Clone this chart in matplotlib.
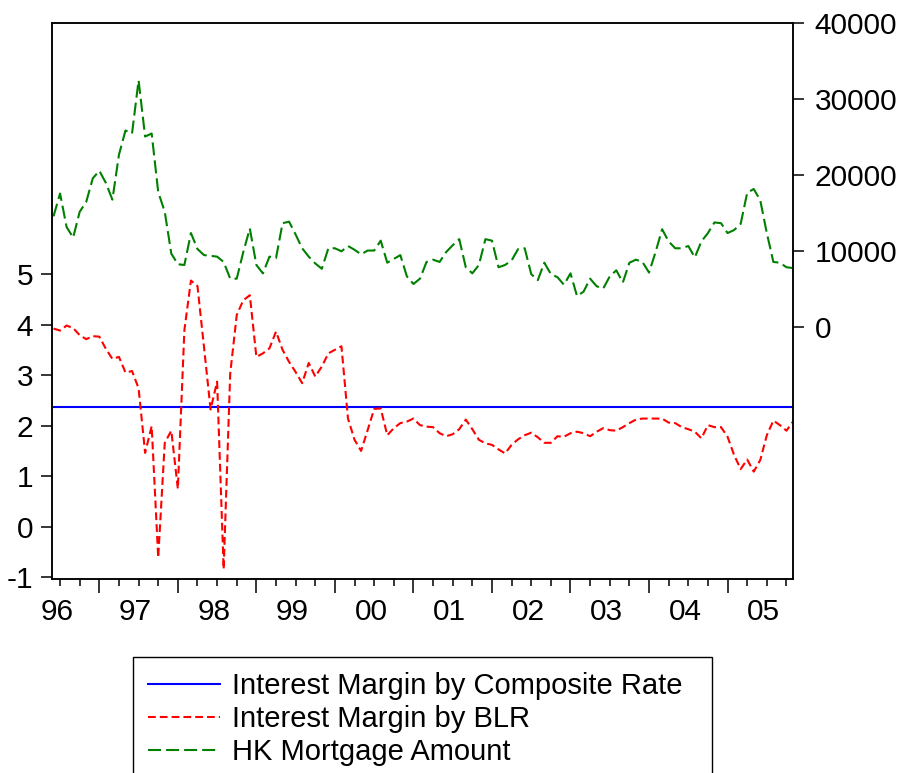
import numpy as np
import matplotlib
matplotlib.use('Agg')
import matplotlib.pyplot as plt

plt.rcParams['font.family'] = ['Liberation Sans', 'DejaVu Sans']
plt.rcParams['lines.scale_dashes'] = False

year_labels = ['96', '97', '98', '99', '00', '01', '02', '03', '04', '05']
left_ticks = [-1, 0, 1, 2, 3, 4, 5]
right_ticks = [0, 10000, 20000, 30000, 40000]
series_names = ['Interest Margin by Composite Rate',
                'Interest Margin by BLR',
                'HK Mortgage Amount']

composite_margin = 2.36

blr_margin = [
    3.92, 3.88, 3.98, 3.93, 3.79, 3.71, 3.77, 3.76, 3.52, 3.32,
    3.36, 3.05, 3.08, 2.74, 1.46, 1.99, -0.61, 1.66, 1.90, 0.75,
    3.89, 4.87, 4.76, 3.55, 2.32, 2.87, -0.84, 3.03, 4.19, 4.48,
    4.58, 3.36, 3.43, 3.53, 3.86, 3.50, 3.26, 3.06, 2.84, 3.24,
    2.97, 3.17, 3.43, 3.50, 3.57, 2.14, 1.72, 1.50, 1.91, 2.33,
    2.34, 1.81, 1.95, 2.05, 2.08, 2.14, 2.01, 1.98, 1.97, 1.85,
    1.79, 1.83, 1.93, 2.12, 1.93, 1.72, 1.65, 1.62, 1.53, 1.45,
    1.62, 1.73, 1.81, 1.86, 1.77, 1.66, 1.66, 1.79, 1.78, 1.85,
    1.88, 1.85, 1.79, 1.88, 1.95, 1.91, 1.90, 1.97, 2.05, 2.12,
    2.14, 2.14, 2.14, 2.14, 2.06, 2.05, 1.97, 1.93, 1.88, 1.75,
    2.01, 1.97, 1.97, 1.78, 1.42, 1.14, 1.33, 1.09, 1.32, 1.81,
    2.10, 2.01, 1.90, 2.08,
]

mortgage = [
    14600, 17600, 13200, 11800, 15200, 16500, 19600, 20600, 19000, 16800,
    22700, 25900, 25500, 32500, 25100, 25500, 17800, 15200, 9700, 8300,
    8200, 12400, 10300, 9500, 9400, 9300, 8600, 6400, 6400, 9900,
    13000, 8200, 7100, 9300, 9100, 13700, 13900, 12200, 10400, 9300,
    8400, 7700, 10400, 10400, 10000, 10700, 10200, 9600, 10100, 10100,
    11400, 8500, 9000, 9500, 6700, 5700, 6400, 8600, 8900, 8600,
    9900, 10800, 11600, 7900, 7100, 8200, 11600, 11400, 7900, 8200,
    8800, 10300, 10400, 7000, 6200, 8500, 7000, 6600, 5600, 7100,
    4100, 4700, 6400, 5400, 5100, 6700, 7500, 5900, 8500, 8900,
    8600, 7200, 9900, 12900, 11300, 10400, 10400, 10700, 9200, 11300,
    12400, 13800, 13700, 12400, 12800, 13600, 17700, 18200, 16700, 12400,
    8600, 8500, 7900, 7800,
]

n = len(blr_margin)
months = np.arange(n)  # monthly observations from 1996M1

W, H = 904, 773
fig = plt.figure(figsize=(W / 100, H / 100), dpi=100)
L, R, T, B = 52, 793, 23, 578.5
ax = fig.add_axes([L / W, 1 - B / H, (R - L) / W, (B - T) / H])

lw = 1.5
l1, = ax.plot(months, [composite_margin] * n, color='#0000ff', lw=lw,
              label=series_names[0])
l2, = ax.plot(months, blr_margin, color='#ff0000', lw=lw,
              dashes=(5.6, 2.9), label=series_names[1])
ax.set_xlim(-0.23, n - 1)
ax.set_ylim(-1.024, 9.965)

ax2 = ax.twinx()
l3, = ax2.plot(months, mortgage, color='#008000', lw=lw,
               dashes=(9.4, 3.6), label=series_names[2])
ax2.set_ylim(-33050, 40040)

fs = 21.5
spine_w = 1.1
for a in (ax, ax2):
    for s in a.spines.values():
        s.set_linewidth(spine_w)
        s.set_color('black')

# x axis: year labels (no tick marks), quarterly short ticks, long ticks
label_pos = [0.5 + 12 * k for k in range(len(year_labels))]
ax.set_xticks(label_pos)
ax.set_xticklabels(year_labels)
ax.tick_params(axis='x', which='major', length=0, pad=14, labelsize=fs)
quarter_pos = [1 + 3 * k for k in range(38)]
short_pos = [p for k, p in enumerate(quarter_pos) if k % 4 != 2]
long_pos = [p for k, p in enumerate(quarter_pos) if k % 4 == 2]
ax.set_xticks(short_pos, minor=True)
ax.tick_params(axis='x', which='minor', length=5, width=spine_w,
               direction='out')

sec = ax.secondary_xaxis('bottom')
sec.set_xticks(long_pos)
sec.set_xticklabels([''] * len(long_pos))
sec.tick_params(axis='x', length=10, width=spine_w, direction='out')
sec.spines['bottom'].set_visible(False)

ax.set_yticks(left_ticks)
ax.set_yticklabels([str(v) for v in left_ticks])
ax.tick_params(axis='y', which='major', length=8, width=spine_w,
               pad=5.5, labelsize=fs)
ax.yaxis.set_minor_locator(matplotlib.ticker.NullLocator())

ax2.set_yticks(right_ticks)
ax2.set_yticklabels([str(v) for v in right_ticks])
ax2.tick_params(axis='y', which='major', length=8, width=spine_w,
                pad=7.4, labelsize=fs)

leg = fig.legend(handles=[l1, l2, l3], loc='upper left',
                 bbox_to_anchor=(133 / W, 0, (712 - 133) / W, 1 - 657 / H),
                 mode='expand', fontsize=21, handlelength=2.47,
                 handletextpad=0.41, borderpad=0.51, labelspacing=0.17,
                 borderaxespad=0, fancybox=False, framealpha=1,
                 edgecolor='black')
leg.get_frame().set_linewidth(1.0)

fig.savefig('out.png', dpi=100)
